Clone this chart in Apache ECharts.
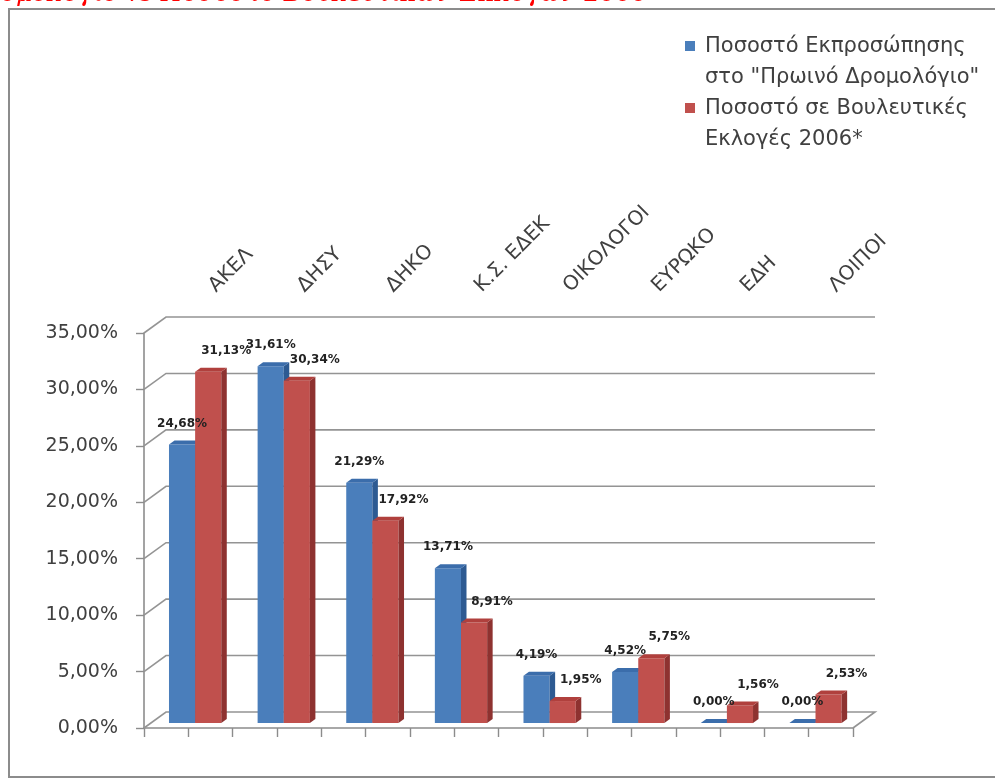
<!DOCTYPE html>
<html>
<head>
<meta charset="utf-8">
<script src="https://cdn.jsdelivr.net/npm/echarts@6/dist/echarts.min.js"></script>
<style>
  html, body { margin: 0; padding: 0; background: #fff; }
  #chart { width: 995px; height: 784px; }
</style>
</head>
<body>
<div id="chart"></div>
<script>
  // party names, left to right
  var categories = ['ΑΚΕΛ', 'ΔΗΣΥ', 'ΔΗΚΟ', 'Κ.Σ. ΕΔΕΚ', 'ΟΙΚΟΛΟΓΟΙ', 'ΕΥΡΩΚΟ', 'ΕΔΗ', 'ΛΟΙΠΟΙ']
  // % representation in the morning programme
  var morningShare = [24.68, 31.61, 21.29, 13.71, 4.19, 4.52, 0.00, 0.00]
  // % in parliamentary elections 2006
  var electionShare = [31.13, 30.34, 17.92, 8.91, 1.95, 5.75, 1.56, 2.53]
  var yTicks = [0, 5, 10, 15, 20, 25, 30, 35]

  var seriesNames = [
    'Ποσοστό Εκπροσώπησης\nστο "Πρωινό Δρομολόγιο"',
    'Ποσοστό σε Βουλευτικές\nΕκλογές 2006*'
  ]

  // fake 3d depth of the plot box
  var DX = 22
  var DY = -16

  function fmt(v) {
    return v.toFixed(2).replace('.', ',') + '%'
  }

  // geometry of one bar: front face shifted into the box a bit
  function barBox(side, api) {
    var cat = api.value(0)
    var v = api.value(1)
    var base = api.coord([cat, 0])
    var top = api.coord([cat, v])
    var w = api.size([1, 0])[0] * 0.295
    var xl = side < 0 ? base[0] - w : base[0]
    var ox = DX * 0.31, oy = DY * 0.31
    return { v: v, w: w, x1: xl + ox, x2: xl + w + ox, yt: top[1] + oy, yb: base[1] + oy }
  }

  function barRenderer(side, colors) {
    return function (params, api) {
      var b = barBox(side, api)
      var ex = DX * 0.25, ey = DY * 0.25
      return {
        type: 'group',
        children: [
          { type: 'rect', shape: { x: b.x1, y: b.yt, width: b.w, height: b.yb - b.yt }, style: { fill: colors[0] } },
          { type: 'polygon', shape: { points: [[b.x2, b.yt], [b.x2 + ex, b.yt + ey], [b.x2 + ex, b.yb + ey], [b.x2, b.yb]] }, style: { fill: colors[1] } },
          { type: 'polygon', shape: { points: [[b.x1, b.yt], [b.x1 + ex, b.yt + ey], [b.x2 + ex, b.yt + ey], [b.x2, b.yt]] }, style: { fill: colors[2] } }
        ]
      }
    }
  }

  function labelRenderer(side, dx) {
    return function (params, api) {
      var b = barBox(side, api)
      return {
        type: 'text', x: (b.x1 + b.x2) / 2 + dx, y: b.yt - 21,
        style: { text: fmt(b.v), align: 'center', verticalAlign: 'middle', font: 'bold 12px "DejaVu Sans"', fill: '#222' }
      }
    }
  }

  function frameRenderer(params, api) {
    var v = api.value(1)
    var y = api.coord([0, v])[1]
    var cs = params.coordSys
    var x0 = cs.x, x1 = cs.x + cs.width
    var pts = [[x0, y], [x0 + DX, y + DY], [x1 + DX, y + DY]]
    if (v === 0) pts.push([x1, y])
    return {
      type: 'polyline',
      shape: { points: pts },
      style: { stroke: '#949494', lineWidth: 1.6, fill: null }
    }
  }

  var chart = echarts.init(document.getElementById('chart'))
  chart.setOption({
    backgroundColor: '#fff',
    animation: false,
    textStyle: { fontFamily: 'DejaVu Sans' },
    graphic: [
      {
        type: 'rect', z: -10,
        shape: { x: 9, y: 9, width: 1000, height: 768 },
        style: { fill: '#fff', stroke: '#8c8c8c', lineWidth: 2 }
      },
      {
        type: 'text', x: 648, y: 7,
        style: {
          text: 'Ποσοστό Εκπροσώπησης στο Πρωινό Δρομολόγιο vs Ποσοστό Βουλευτικών Εκλογών 2006',
          align: 'right', verticalAlign: 'bottom',
          font: 'italic 25px "DejaVu Serif"', fill: '#ff0000'
        }
      }
    ],
    legend: {
      data: seriesNames,
      orient: 'vertical',
      left: 685,
      top: 31,
      padding: 0,
      itemGap: 0,
      itemWidth: 10,
      itemHeight: 42,
      selectedMode: false,
      icon: 'path://M0,0L10,0L10,10L0,10Z M0,41.9L0.1,41.9L0.1,42L0,42Z',
      textStyle: { fontSize: 21, lineHeight: 31, color: '#404040', fontFamily: 'DejaVu Sans', padding: [0, 0, 0, 5] }
    },
    grid: [
      { left: 144, right: 142, top: 333, bottom: 56 },
      { left: 168, right: 118, top: 333, bottom: 56 }
    ],
    xAxis: [
      {
        type: 'category', gridIndex: 0, position: 'bottom', offset: 0, data: categories,
        axisLine: { show: true, lineStyle: { color: '#8c8c8c', width: 1.6 } },
        axisTick: { show: true, interval: 0, length: 9, lineStyle: { color: '#8c8c8c', width: 1.4 } },
        axisLabel: { show: false }
      },
      {
        type: 'category', gridIndex: 0, position: 'bottom', offset: 0, data: categories,
        axisLine: { show: false },
        axisTick: { show: true, interval: 0, alignWithLabel: true, length: 9, lineStyle: { color: '#8c8c8c', width: 1.4 } },
        axisLabel: { show: false }
      },
      {
        type: 'category', gridIndex: 1, position: 'top', data: categories,
        axisLine: { show: false },
        axisTick: { show: false },
        axisLabel: { rotate: 45, interval: 0, margin: 44, fontSize: 20, color: '#404040' }
      }
    ],
    yAxis: [
      {
        type: 'value', gridIndex: 0, min: 0, max: 35, interval: 5,
        axisLine: { show: true, lineStyle: { color: '#8c8c8c', width: 1.6 } },
        axisTick: { show: true, length: 8, lineStyle: { color: '#8c8c8c', width: 1.4 } },
        splitLine: { show: false },
        axisLabel: { margin: 26, fontSize: 19, color: '#404040', formatter: fmt }
      },
      { type: 'value', gridIndex: 1, min: 0, max: 35, show: false }
    ],
    series: [
      {
        type: 'custom', name: 'frame', xAxisIndex: 0, yAxisIndex: 0, z: 1,
        renderItem: frameRenderer,
        data: yTicks.map(function (v) { return [0, v] })
      },
      {
        type: 'custom', name: seriesNames[0], xAxisIndex: 0, yAxisIndex: 0, z: 2,
        itemStyle: { color: '#4a7ebb' },
        renderItem: barRenderer(-1, ['#4a7ebb', '#2d5a92', '#3b6dab']),
        data: morningShare.map(function (v, i) { return [i, v] })
      },
      {
        type: 'custom', name: seriesNames[1], xAxisIndex: 0, yAxisIndex: 0, z: 3,
        itemStyle: { color: '#c0504d' },
        renderItem: barRenderer(1, ['#c0504d', '#8e3230', '#b0403d']),
        data: electionShare.map(function (v, i) { return [i, v] })
      },
      {
        type: 'custom', name: 'labels-a', xAxisIndex: 0, yAxisIndex: 0, z: 5,
        renderItem: labelRenderer(-1, 0),
        data: morningShare.map(function (v, i) { return [i, v] })
      },
      {
        type: 'custom', name: 'labels-b', xAxisIndex: 0, yAxisIndex: 0, z: 5,
        renderItem: labelRenderer(1, 18),
        data: electionShare.map(function (v, i) { return [i, v] })
      }
    ]
  })
</script>
</body>
</html>
